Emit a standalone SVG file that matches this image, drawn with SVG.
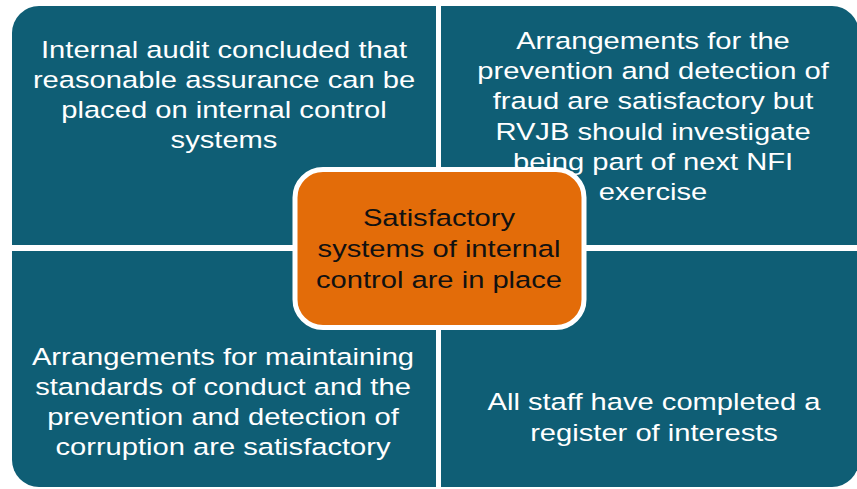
<svg xmlns="http://www.w3.org/2000/svg" width="857" height="489" viewBox="0 0 857 489">
  <style>
    .quad { fill: #0f5e75; }
    .qtext { font-family: "Liberation Sans", Arial, sans-serif; font-size: 24.5px; fill: #ffffff; text-anchor: middle; }
    .ctext { font-family: "Liberation Sans", Arial, sans-serif; font-size: 24.5px; fill: #111111; text-anchor: middle; }
    .core { fill: #e36c09; stroke: #ffffff; stroke-width: 5; }
  </style>
  <rect width="857" height="489" fill="#ffffff"/>

  <g id="quad-top-left">
    <path class="quad" d="M12,245 V33 A27,27 0 0 1 39,6 H436 V245 Z"/>
    <g transform="translate(224 0) scale(1.19 1)">
      <text class="qtext" x="0" y="58">Internal audit concluded that</text>
      <text class="qtext" x="0" y="88.5">reasonable assurance can be</text>
      <text class="qtext" x="0" y="118.5">placed on internal control</text>
      <text class="qtext" x="0" y="148.5">systems</text>
    </g>
  </g>

  <g id="quad-top-right">
    <path class="quad" d="M441,6 H832 A27,27 0 0 1 859,33 V245 H441 Z"/>
    <g transform="translate(653 0) scale(1.19 1)">
      <text class="qtext" x="0" y="49.5">Arrangements for the</text>
      <text class="qtext" x="0" y="79.5">prevention and detection of</text>
      <text class="qtext" x="0" y="109.5">fraud are satisfactory but</text>
      <text class="qtext" x="0" y="140">RVJB should investigate</text>
      <text class="qtext" x="0" y="170">being part of next NFI</text>
      <text class="qtext" x="0" y="200">exercise</text>
    </g>
  </g>

  <g id="quad-bottom-left">
    <path class="quad" d="M12,251 H436 V487 H39 A27,27 0 0 1 12,460 Z"/>
    <g transform="translate(223 0) scale(1.19 1)">
      <text class="qtext" x="0" y="365">Arrangements for maintaining</text>
      <text class="qtext" x="0" y="395">standards of conduct and the</text>
      <text class="qtext" x="0" y="425">prevention and detection of</text>
      <text class="qtext" x="0" y="455">corruption are satisfactory</text>
    </g>
  </g>

  <g id="quad-bottom-right">
    <path class="quad" d="M441,251 H859 V460 A27,27 0 0 1 832,487 H441 Z"/>
    <g transform="translate(654 0) scale(1.19 1)">
      <text class="qtext" x="0" y="410">All staff have completed a</text>
      <text class="qtext" x="0" y="441">register of interests</text>
    </g>
  </g>

  <g id="center">
    <rect class="core" x="295" y="169.5" width="289" height="158" rx="28" ry="28"/>
    <g transform="translate(439 0) scale(1.19 1)">
      <text class="ctext" x="0" y="226">Satisfactory</text>
      <text class="ctext" x="0" y="257">systems of internal</text>
      <text class="ctext" x="0" y="288">control are in place</text>
    </g>
  </g>

  <g id="connectors"/>
</svg>
